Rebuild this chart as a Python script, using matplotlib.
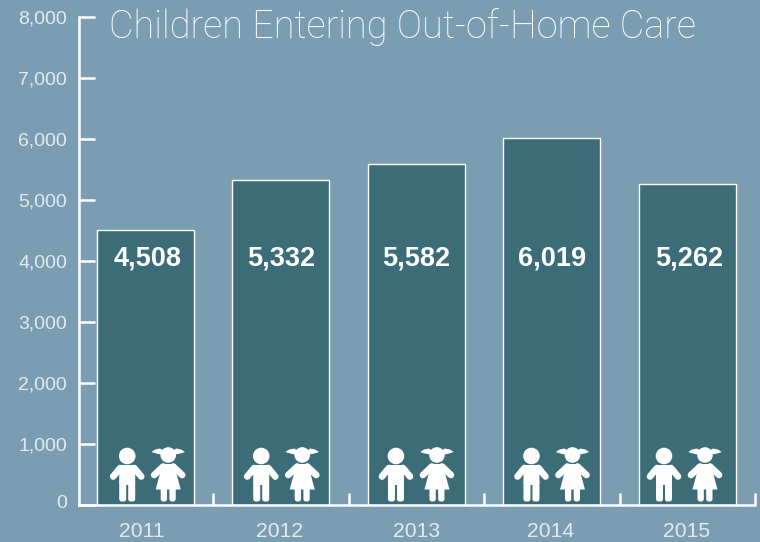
import matplotlib
matplotlib.use('Agg')
import matplotlib.pyplot as plt
from matplotlib.patches import Circle, Polygon, FancyBboxPatch
from matplotlib.transforms import Affine2D, ScaledTranslation

years = ['2011', '2012', '2013', '2014', '2015']
entries = [4508, 5332, 5582, 6019, 5262]
y_ticks = [0, 1000, 2000, 3000, 4000, 5000, 6000, 7000, 8000]

BG = '#7a9db2'
BAR = '#3b6c77'
WHITE = '#ffffff'
TICK_TEXT = '#e2eaef'

# small nudges (px) for labels and icons inside each column
year_shift = [-4, -1, 0, -1, -1]
value_shift = [2.5, 0.5, 0, 0.5, 1.5]
icon_shift = [2.3, 0.8, 0, 0, -3]

plt.rcParams['font.family'] = ['Liberation Sans', 'DejaVu Sans']


def rounded(x0, y0, x1, y1, r, tr):
    return FancyBboxPatch((x0 + r, y0 + r), x1 - x0 - 2 * r, y1 - y0 - 2 * r,
                          boxstyle='round,pad=%f,rounding_size=%f' % (r, r),
                          fc=WHITE, ec='none', transform=tr, zorder=4)


def arm(x0, y0, x1, y1, tr):
    return plt.Line2D([x0, x1], [y0, y1], color=WHITE, lw=4.8,
                      solid_capstyle='round', transform=tr, zorder=4)


def pigtail(side, tr):
    pts = [(-16.7, -53), (-13, -55.5), (-8, -56.5), (-4, -54), (-4, -50), (-10, -51), (-14, -52)]
    return Polygon([(side * -px, py) for px, py in pts], closed=True, fc=WHITE, ec='none',
                   joinstyle='round', transform=tr, zorder=4)


def draw_boy(ax, tr):
    # local units are pixels, y grows downward from the baseline
    ax.add_patch(Circle((0, -49), 8.3, fc=WHITE, ec='none', transform=tr, zorder=4))
    ax.add_patch(rounded(-8, -40, 8, -20, 3, tr))
    ax.add_patch(rounded(-8, -25, -1, -3.5, 2.5, tr))
    ax.add_patch(rounded(1, -25, 8, -3.5, 2.5, tr))
    ax.add_line(arm(-7, -37, -14, -28.5, tr))
    ax.add_line(arm(7, -37, 14, -28.5, tr))


def draw_girl(ax, tr):
    ax.add_patch(Circle((0, -50), 7.8, fc=WHITE, ec='none', transform=tr, zorder=4))
    ax.add_patch(pigtail(-1, tr))
    ax.add_patch(pigtail(1, tr))
    ax.add_patch(rounded(-7, -41, 7, -32, 3, tr))
    ax.add_patch(Polygon([(-7, -36), (7, -36), (12.5, -15.5), (-12.5, -15.5)], closed=True,
                         fc=WHITE, ec='none', transform=tr, zorder=4))
    ax.add_patch(rounded(-7.5, -18, -1.2, -3.5, 2.5, tr))
    ax.add_patch(rounded(1.2, -18, 7.5, -3.5, 2.5, tr))
    ax.add_line(arm(-5, -38.5, -14, -30, tr))
    ax.add_line(arm(5, -38.5, 14, -30, tr))


fig = plt.figure(figsize=(7.6, 5.42), dpi=100, facecolor=BG)
ax = fig.add_axes([79 / 760, 37 / 542, 681 / 760, 488 / 542], facecolor=BG)

x = list(range(len(years)))
ax.bar(x, entries, width=0.716, color=BAR, edgecolor=WHITE, linewidth=1.0, zorder=2)

ax.set_xlim(-0.49, 4.535)
ax.set_ylim(0, 8000)

for s in ['top', 'right']:
    ax.spines[s].set_visible(False)
for s in ['left', 'bottom']:
    ax.spines[s].set_color(WHITE)
    ax.spines[s].set_linewidth(1.8)
    ax.spines[s].set_zorder(5)
ax.spines['bottom'].set_bounds(-0.49, 4.5)

ax.set_yticks(y_ticks)
ax.set_yticklabels(['{:,}'.format(v) for v in y_ticks])
ax.tick_params(axis='y', direction='in', length=11.5, width=1.8, color=WHITE,
               labelcolor=TICK_TEXT, labelsize=14, pad=8.5)
zero_lab = ax.get_yticklabels()[0]
zero_lab.set_transform(zero_lab.get_transform() + ScaledTranslation(0, 3 / 100, fig.dpi_scale_trans))

# ticks sit between the columns, year labels on the column centres
ax.set_xticks([i + 0.5 for i in x])
ax.set_xticklabels([])
ax.set_xticks(x, minor=True)
ax.set_xticklabels(years, minor=True)
ax.tick_params(axis='x', which='major', direction='in', length=8.5, width=1.8, color=WHITE)
ax.tick_params(axis='x', which='minor', length=0, labelcolor=TICK_TEXT, labelsize=15.2, pad=12)
for lab, dx in zip(ax.get_xticklabels(minor=True), year_shift):
    lab.set_transform(lab.get_transform() + ScaledTranslation(dx / 100, 0, fig.dpi_scale_trans))

for i, v in enumerate(entries):
    ax.annotate('{:,}'.format(v), (i, 4040), xytext=(value_shift[i], 0), textcoords='offset pixels',
                ha='center', va='center', color=WHITE, fontsize=19.5, fontweight='bold', zorder=4)

fig.canvas.draw()
for i in x:
    px, py = ax.transData.transform((i, 0))
    base = Affine2D().scale(1, -1).translate(px + icon_shift[i], py)
    draw_boy(ax, Affine2D().translate(-20.5, 0) + base)
    draw_girl(ax, Affine2D().translate(20.5, 0) + base)

fig.text(109 / 760, 1 - 27 / 542, 'Children Entering Out-of-Home Care', color=WHITE,
         fontsize=27.3, fontweight='light', ha='left', va='center',
         family=['Roboto', 'DejaVu Sans'])

fig.savefig('out.png', dpi=100, facecolor=BG)
